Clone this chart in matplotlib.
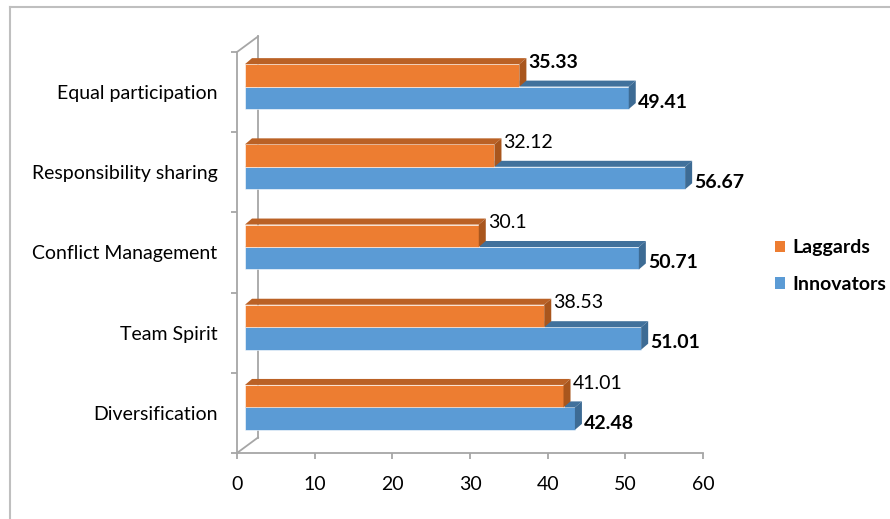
import matplotlib.pyplot as plt
from matplotlib.patches import Polygon, Patch
from matplotlib.lines import Line2D

plt.rcParams['font.family'] = ['Lato', 'DejaVu Sans']

categories = ['Diversification', 'Team Spirit', 'Conflict Management',
              'Responsibility sharing', 'Equal participation']
laggards = [41.01, 38.53, 30.1, 32.12, 35.33]
innovators = [42.48, 51.01, 50.71, 56.67, 49.41]
lag_bold = [False, False, False, False, True]
x_ticks = [0, 10, 20, 30, 40, 50, 60]

W, H = 890, 519
fig = plt.figure(figsize=(W / 100, H / 100), dpi=100)

# front plane of the chart in pixels
x0, x1, yb, yt = 237, 703, 453, 52
ax = fig.add_axes([x0 / W, 1 - yb / H, (x1 - x0) / W, (yb - yt) / H])
ax.set_xlim(0, 60)
ax.set_ylim(-0.5, len(categories) - 0.5)

# pixel -> data factors
px = 60 / (x1 - x0)
py = len(categories) / (yb - yt)

grey = '#A6A6A6'
for s in ['top', 'right']:
    ax.spines[s].set_visible(False)
for s in ['left', 'bottom']:
    ax.spines[s].set_color(grey)
    ax.spines[s].set_linewidth(1.3)

# back wall (side wall of the 3d box)
dwx, dwy = 21 * px, 15.5 * py
ytop = len(categories) - 0.5
wall = dict(color=grey, lw=1.3, clip_on=False, zorder=1)
ax.plot([0, dwx], [-0.5, -0.5 + dwy], **wall)
ax.plot([dwx, dwx], [-0.5 + dwy, ytop + dwy], **wall)
ax.plot([0, dwx], [ytop, ytop + dwy], **wall)

# bars
bx, by = 8 * px, 5.5 * py      # bar front face offset from front plane
sx, sy = 7 * px, 6 * py        # bar depth
h = 0.28

def bar3d(v, yc, front, top, side, zo):
    x_l, x_r = bx, bx + v
    y_b, y_t = yc - h / 2 + by, yc + h / 2 + by
    ax.add_patch(Polygon([(x_l, y_b), (x_r, y_b), (x_r, y_t), (x_l, y_t)],
                         closed=True, fc=front, ec='#FFFFFF', lw=0.4, zorder=zo, clip_on=False))
    ax.add_patch(Polygon([(x_l, y_t), (x_r, y_t), (x_r + sx, y_t + sy), (x_l + sx, y_t + sy)],
                         closed=True, fc=top, ec='none', zorder=zo, clip_on=False))
    ax.add_patch(Polygon([(x_r, y_b), (x_r + sx, y_b + sy), (x_r + sx, y_t + sy), (x_r, y_t)],
                         closed=True, fc=side, ec='none', zorder=zo, clip_on=False))
    return x_r + sx, y_b, y_t

for i, cat in enumerate(categories):
    xr, yb_, yt_ = bar3d(innovators[i], i - h / 2, '#5B9BD5', '#41719C', '#3D6B94', 3)
    ax.text(xr + 2 * px, (yb_ + yt_) / 2 - 4.5 * py, '%g' % innovators[i],
            ha='left', va='center', fontsize=14, fontweight='bold', color='black', zorder=6)
    xr, yb_, yt_ = bar3d(laggards[i], i + h / 2, '#ED7D31', '#BA6125', '#A9561D', 4)
    ax.text(xr + 2 * px, (yb_ + yt_) / 2 + 13 * py, '%g' % laggards[i],
            ha='left', va='center', fontsize=14,
            fontweight='bold' if lag_bold[i] else 'normal', color='black', zorder=6)

# axes ticks
ax.set_xticks(x_ticks)
ax.set_yticks(range(len(categories)))
ax.set_yticklabels(categories)
ax.set_yticks([k - 0.5 for k in range(len(categories) + 1)], minor=True)
ax.tick_params(axis='x', length=4.5, color=grey, width=1.3, pad=12, labelsize=14)
ax.tick_params(axis='y', which='major', length=0, pad=14, labelsize=14)
ax.tick_params(axis='y', which='minor', length=4.5, color=grey, width=1.3)
ax.patch.set_alpha(0)

# legend
handles = [Patch(fc='#ED7D31', ec='none'), Patch(fc='#5B9BD5', ec='none')]
fig.legend(handles, ['Laggards', 'Innovators'], loc='center left',
           bbox_to_anchor=(757 / W, 1 - 266 / H), frameon=False,
           prop=dict(size=14, weight='bold'), handlelength=0.55, handleheight=0.55,
           labelspacing=1.0, handletextpad=0.35)

# outer border (only top and left are in view)
fig.add_artist(Line2D([10 / W, 1], [1 - 7 / H, 1 - 7 / H], color='#BFBFBF', lw=1.5))
fig.add_artist(Line2D([10 / W, 10 / W], [0, 1 - 7 / H], color='#BFBFBF', lw=1.5))

fig.savefig('out.png', dpi=100)
